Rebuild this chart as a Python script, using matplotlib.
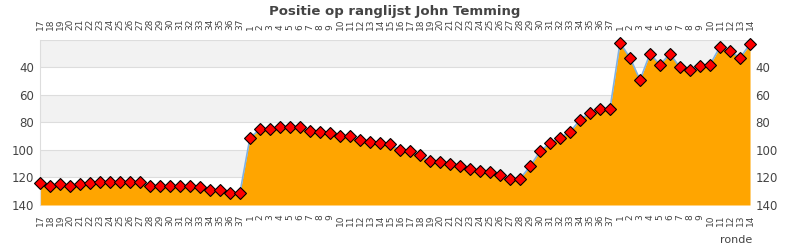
"""Positie op ranglijst John Temming per ronde."""

import matplotlib
matplotlib.use("Agg")
import matplotlib.pyplot as plt

rondes = ([str(r) for r in range(17, 38)]
          + [str(r) for r in range(1, 38)]
          + [str(r) for r in range(1, 15)])

positie = [
    # 17..37
    124, 126, 125, 126, 125, 124, 123, 123, 123, 123, 123,
    126, 126, 126, 126, 126, 127, 129, 129, 131, 131,
    # 1..37
    91, 85, 85, 83, 83, 83, 86, 87, 88, 90, 90, 93, 94, 95, 96, 100, 101,
    104, 108, 109, 110, 112, 114, 115, 116, 118, 121, 121, 112, 101, 95,
    91, 87, 78, 73, 70, 70,
    # 1..14
    22, 33, 49, 30, 38, 30, 40, 42, 39, 38, 25, 28, 33, 23,
]

y_ticks = [40, 60, 80, 100, 120, 140]

fig = plt.figure(figsize=(7.9, 2.5), dpi=100)
ax = fig.add_axes([0.0506, 0.18, 0.8988, 0.66])

x = list(range(len(positie)))

# alternating bands
for lo in range(20, 140, 40):
    ax.axhspan(lo, lo + 20, color="#f2f2f2", zorder=0, lw=0)
for yv in range(20, 141, 20):
    ax.axhline(yv, color="#dddddd", lw=0.8, zorder=0.5)

ax.fill_between(x, positie, 140, color="#ffa500", lw=0, zorder=1)
ax.plot(x, positie, color="#7fb2e5", lw=1.2, zorder=2)
ax.plot(x, positie, ls="none", marker="D", ms=6, mfc="#ff0000",
        mec="black", mew=0.8, zorder=3, clip_on=False)

ax.set_xlim(0, len(positie) - 1)
ax.set_ylim(140, 20)
ax.set_yticks(y_ticks)
ax.set_xticks(x)
ax.set_xticklabels(rondes, rotation=90, fontsize=6.5, color="#444444")
ax.tick_params(axis="x", length=0, pad=7, labeltop=True, top=False)
ax.tick_params(axis="y", length=0, labelsize=8.5, labelcolor="#444444",
               labelright=True, right=False, pad=4)
for s in ax.spines.values():
    s.set_visible(False)
ax.spines["left"].set_visible(True)
ax.spines["left"].set_color("#dddddd")
ax.spines["left"].set_linewidth(0.8)

fig.text(0.5, 0.955, "Positie op ranglijst John Temming", ha="center",
         va="center", fontsize=9.5, fontweight="bold", color="#444444")
fig.text(0.932, 0.04, "ronde", ha="center", va="center", fontsize=8,
         color="#444444")

fig.savefig("out.png", dpi=100)
